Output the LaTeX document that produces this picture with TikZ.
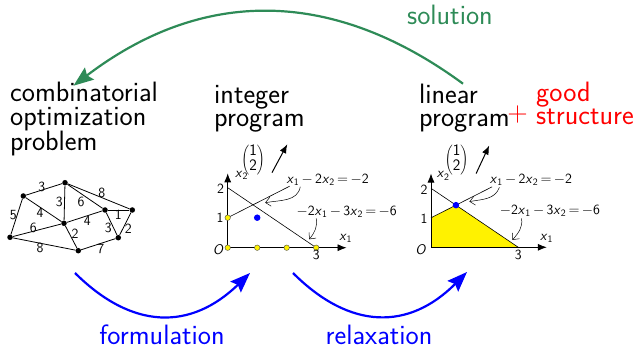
\documentclass[tikz,border=0pt]{standalone}
\usepackage{fontspec}
\usetikzlibrary{arrows.meta}
\definecolor{solgreen}{RGB}{46,139,87}
\newcommand\X[1]{\textit{x}\textsubscript{#1}}
\newcommand\bigf{\fontsize{28}{23.5}\selectfont\sffamily}
\newcommand\smf{\fontsize{14}{14}\selectfont\sffamily}
\newcommand\vecf{\fontsize{16}{16}\selectfont\sffamily}
\tikzset{
  bigtext/.style={font=\bigf, inner sep=0pt, align=left, anchor=base west},
  gnode/.style={circle, fill=black, inner sep=0pt, minimum size=5.5pt},
  glab/.style={font=\smf, inner sep=0pt},
  gedge/.style={line width=0.8pt},
  ydot/.style={circle, fill=yellow, draw=black!70, line width=0.4pt, inner sep=0pt, minimum size=5.5pt},
  bdot/.style={circle, fill=blue, inner sep=0pt, minimum size=6.5pt},
  axisline/.style={-{Latex[length=9pt,width=7pt]}, line width=0.8pt},
  vecline/.style={-{Latex[length=9pt,width=7pt]}, line width=1pt},
  consline/.style={line width=0.6pt},
  noteline/.style={-{Straight Barb[length=5pt,width=9pt]}, line width=0.5pt},
  plab/.style={font=\smf, inner sep=0pt},
  vlab/.style={font=\vecf, inner sep=0pt},
  bigarrow/.style={line width=2.2pt, -{Stealth[length=20pt,width=15pt,inset=3pt]}},
}
\begin{document}
\begin{tikzpicture}[x=1pt,y=-1pt]
\useasboundingbox (0,0) rectangle (636,347);

% ---- headings (anchor = baseline of last line) ----
\node[bigtext] (cop) at (10,151) {combinatorial\\optimization\\problem};
\node[bigtext] (ip) at (214,126.7) {integer\\program};
\node[bigtext] (lp) at (419,126.7) {linear\\program};
\node[bigtext, text=red] (gs) at (536,125) {good\\structure};
\node[font=\bigf, text=red, inner sep=0pt] (plus) at (517.5,114.3) {+};
\node[font=\bigf, text=solgreen, inner sep=0pt, anchor=base west] (sol) at (407,25) {solution};
\node[font=\bigf, text=blue, inner sep=0pt, anchor=base] (form) at (162,344) {formulation};
\node[font=\bigf, text=blue, inner sep=0pt, anchor=base] (relax) at (379,344) {relaxation};

% ---- big arrows ----
\coordinate (gS) at (463,83.7);
\coordinate (gE) at (73.5,85.7);
\draw[bigarrow, solgreen] (gS) .. controls (331.7,-12.7) and (201.8,-12) .. (gE);
\coordinate (b1S) at (75,273);
\coordinate (b1E) at (250,273);
\draw[bigarrow, blue] (b1S) .. controls (132.7,330.3) and (191,330.3) .. (b1E);
\coordinate (b2S) at (293,273);
\coordinate (b2E) at (467,272);
\draw[bigarrow, blue] (b2S) .. controls (350.3,330.3) and (409,330.3) .. (b2E);

% ---- graph ----
\node[gnode] (A) at (65,182.7) {};
\node[gnode] (B) at (23.3,196) {};
\node[gnode] (C) at (64,223.3) {};
\node[gnode] (D) at (10,237.3) {};
\node[gnode] (E) at (78.3,250.7) {};
\node[gnode] (F) at (105,210) {};
\node[gnode] (G) at (132.3,210) {};
\node[gnode] (H) at (118.3,237.7) {};
\draw[gedge] (B) -- (A);
\draw[gedge] (A) -- (C);
\draw[gedge] (A) -- (F);
\draw[gedge] (A) -- (G);
\draw[gedge] (B) -- (C);
\draw[gedge] (B) -- (D);
\draw[gedge] (D) -- (C);
\draw[gedge] (C) -- (F);
\draw[gedge] (C) -- (E);
\draw[gedge] (D) -- (E);
\draw[gedge] (E) -- (H);
\draw[gedge] (F) -- (G);
\draw[gedge] (F) -- (H);
\draw[gedge] (G) -- (H);
\node[glab] (lBA) at (41.7,186.7) {3};
\node[glab] (lAC) at (59.3,201.7) {3};
\node[glab] (lAF) at (81,201.7) {6};
\node[glab] (lAG) at (101.7,193.3) {8};
\node[glab] (lBC) at (40,213.3) {4};
\node[glab] (lBD) at (13.3,215) {5};
\node[glab] (lDC) at (33.3,227.7) {6};
\node[glab] (lCF) at (87.3,221) {4};
\node[glab] (lCE) at (75,233.3) {2};
\node[glab] (lDE) at (40,248.3) {8};
\node[glab] (lEH) at (100.7,249) {7};
\node[glab] (lFG) at (118.3,215) {1};
\node[glab] (lFH) at (108.3,228.3) {3};
\node[glab] (lGH) at (128.3,228.3) {2};

% ---- integer program plot ----
\begin{scope}[shift={(227.7,247.7)}, x=29.5pt, y=30pt]
  \coordinate (iO) at (0,0);
  \coordinate (iX) at (4.03,0);
  \coordinate (iY) at (0,2.48);
  \draw[axisline] (iO) -- (iX);
  \draw[axisline] (iO) -- (iY);
  \coordinate (iL1a) at (0,1);
  \coordinate (iL1b) at (2.1,2.05);
  \coordinate (iL2a) at (0,2);
  \coordinate (iL2b) at (3,0);
  \draw[consline] (iL1a) -- (iL1b);
  \draw[consline] (iL2a) -- (iL2b);
  \node[ydot] (ip00) at (0,0) {};
  \node[ydot] (ip10) at (1,0) {};
  \node[ydot] (ip20) at (2,0) {};
  \node[ydot] (ip30) at (3,0) {};
  \node[ydot] (ip01) at (0,1) {};
  \node[bdot] (ip11) at (1,1) {};
  \coordinate (ivS) at (1.5,2.5);
  \coordinate (ivE) at (2.02,3.45);
  \draw[vecline] (ivS) -- (ivE);
  \node[vlab] (ivl) at (0.86,2.92) {$\left(\begin{array}{@{}c@{}}\mbox{1}\\[-1pt]\mbox{2}\end{array}\right)$};
  \node[plab] (ix2) at (0.47,2.4) {\X2};
  \node[plab] (ix1) at (4.0,0.31) {\X1};
  \node[plab] (iOl) at (-0.32,-0.08) {\textit{O}};
  \node[plab] (i1l) at (-0.26,1.0) {1};
  \node[plab] (i2l) at (-0.24,1.98) {2};
  \node[plab] (i3l) at (3,-0.25) {3};
  \node[plab, anchor=west] (ie1) at (1.99,2.26) {\X1\,$-$\,2\X2$\,=\,$$-$2};
  \node[plab, anchor=west] (ie2) at (2.33,1.19) {$-$2\X1\,$-$\,3\X2$\,=\,$$-$6};
  \coordinate (ia1S) at (2.46,2.03);
  \coordinate (ia1E) at (1.27,1.5);
  \draw[noteline] (ia1S) to[out=-100,in=10] (ia1E);
  \coordinate (ia2S) at (3.0,0.98);
  \coordinate (ia2E) at (2.76,0.28);
  \draw[noteline] (ia2S) to[out=-80,in=50] (ia2E);
\end{scope}

% ---- linear program plot ----
\begin{scope}[shift={(431,247.3)}, x=29.1pt, y=29.5pt]
  \coordinate (lO) at (0,0);
  \coordinate (lX) at (3.98,0);
  \coordinate (lY) at (0,2.5);
  \coordinate (lP1) at (0,1);
  \coordinate (lP2) at (6/7,10/7);
  \coordinate (lP3) at (3,0);
  \fill[yellow] (lO) -- (lP1) -- (lP2) -- (lP3) -- cycle;
  \draw[axisline] (lO) -- (lX);
  \draw[axisline] (lO) -- (lY);
  \coordinate (lL1b) at (2.1,2.05);
  \coordinate (lL2a) at (0,2);
  \draw[consline] (lP1) -- (lL1b);
  \draw[consline] (lL2a) -- (lP3);
  \node[bdot] (lopt) at (lP2) {};
  \coordinate (lvS) at (1.55,2.5);
  \coordinate (lvE) at (2.0,3.45);
  \draw[vecline] (lvS) -- (lvE);
  \node[vlab] (lvl) at (0.88,2.96) {$\left(\begin{array}{@{}c@{}}\mbox{1}\\[-1pt]\mbox{2}\end{array}\right)$};
  \node[plab] (lx2) at (0.42,2.42) {\X2};
  \node[plab] (lx1) at (3.97,0.31) {\X1};
  \node[plab] (lOl) at (-0.35,-0.09) {\textit{O}};
  \node[plab] (l1l) at (-0.24,0.96) {1};
  \node[plab] (l2l) at (-0.24,1.95) {2};
  \node[plab] (l3l) at (3.0,-0.26) {3};
  \node[plab, anchor=west] (le1) at (2.02,2.28) {\X1\,$-$\,2\X2$\,=\,$$-$2};
  \node[plab, anchor=west] (le2) at (2.36,1.24) {$-$2\X1\,$-$\,3\X2$\,=\,$$-$6};
  \coordinate (la1S) at (2.35,2.03);
  \coordinate (la1E) at (1.32,1.55);
  \draw[noteline] (la1S) to[out=-110,in=10] (la1E);
  \coordinate (la2S) at (3.11,0.98);
  \coordinate (la2E) at (2.8,0.25);
  \draw[noteline] (la2S) to[out=-80,in=50] (la2E);
\end{scope}
\end{tikzpicture}
\end{document}
